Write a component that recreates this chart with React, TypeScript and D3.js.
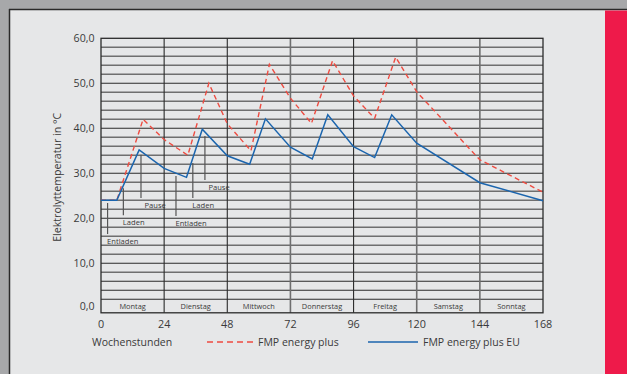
import React from 'react';
import * as d3 from 'd3';

// ---- data ----
const redHours = [0, 6, 16, 24, 33, 41, 48, 57, 64, 72, 80, 88, 96, 104, 112, 120, 144, 168];
const redTemps = [24, 24, 42, 37.5, 34, 50, 41, 35, 54.2, 46.7, 41.1, 55, 47.2, 42.2, 55.8, 48.1, 33, 25.8];
const blueHours = [0, 6, 14.5, 24, 32.5, 38.5, 48, 56.5, 62.5, 72, 80.3, 86.2, 96, 104, 110.5, 120, 144, 168];
const blueTemps = [24, 24, 35.2, 31.1, 29.1, 39.8, 33.9, 32, 42.1, 35.8, 33.2, 43, 35.9, 33.5, 43, 36.7, 27.9, 23.9];
const yTicks = [0, 10, 20, 30, 40, 50, 60];
const xTicks = [0, 24, 48, 72, 96, 120, 144, 168];
const days = ['Montag', 'Dienstag', 'Mittwoch', 'Donnerstag', 'Freitag', 'Samstag', 'Sonntag'];
const markLabels = ['Entladen', 'Laden', 'Pause', 'Entladen', 'Laden', 'Pause'];
const markHours = [2.5, 8.5, 15.2, 28.5, 34.9, 39.5];
const markTop = [23.4, 26.7, 34.1, 29.4, 32.3, 38.3];
const markBottom = [16.5, 20.7, 24.5, 20.5, 24.5, 28.5];
const seriesNames = ['FMP energy plus', 'FMP energy plus EU'];

const FONT = "'Open Sans', 'Noto Sans', sans-serif";

export default function App() {
  const x = d3.scaleLinear().domain([0, 168]).range([101, 543]);
  const y = d3.scaleLinear().domain([0, 60]).range([308.3, 38.3]);
  const frameBottom = y(-1);
  const red = '#ee4b40';
  const blue = '#1b65ae';
  const txt = '#3a3a3a';

  const redLine = d3.line<number>().x((_, i) => x(redHours[i])).y((d) => y(d));
  const blueLine = d3.line<number>().x((_, i) => x(blueHours[i])).y((d) => y(d));

  const hLines = d3.range(2, 60, 2);
  const darkV = new Set([24, 48, 96]);

  return (
    <div style={{ position: 'absolute', left: 0, top: 0 }}>
      <svg width={627} height={374} style={{ display: 'block' }}>
        <rect x={0} y={0} width={627} height={374} fill="#a7a8aa" />
        <rect x={9} y={9} width={618} height={365} fill="#e6e7e8" />
        <line x1={9} x2={627} y1={9.5} y2={9.5} stroke="#2a2a2a" strokeWidth={1.5} />
        <line x1={9.5} x2={9.5} y1={9} y2={374} stroke="#2a2a2a" strokeWidth={1.5} />
        <rect x={605} y={10.5} width={22} height={364} fill="#ee1a4a" />

        {/* horizontal grid */}
        {hLines.map((v) => (
          <line key={'h' + v} x1={x(0)} x2={x(168)} y1={y(v)} y2={y(v)}
            stroke={v % 10 === 0 || v <= 6 ? '#2b2b2b' : '#6f6f6f'}
            strokeWidth={v % 10 === 0 || v <= 6 ? 1.1 : 1.5} />
        ))}
        {/* vertical grid */}
        {xTicks.slice(1, -1).map((h) => (
          <line key={'v' + h} x1={x(h)} x2={x(h)} y1={y(60)} y2={frameBottom}
            stroke={darkV.has(h) ? '#2b2b2b' : '#6f6f6f'}
            strokeWidth={darkV.has(h) ? 1.1 : 1.6} />
        ))}
        {/* frame */}
        <rect x={x(0)} y={y(60)} width={x(168) - x(0)} height={frameBottom - y(60)}
          fill="none" stroke="#2b2b2b" strokeWidth={1.3} />

        {/* day labels */}
        {days.map((d, i) => (
          <text key={d} x={x(i * 24 + 12)} y={(y(2) + frameBottom) / 2 + 2.8}
            textAnchor="middle" fontFamily={FONT} fontSize={7.4} fill={txt}>{d}</text>
        ))}

        {/* y ticks */}
        {yTicks.map((v) => (
          <text key={'y' + v} x={94.5} y={y(v) + (v === 0 ? -2 : 0) + 4} textAnchor="end"
            fontFamily={FONT} fontSize={10.6} fill={txt}>{d3.format('.1f')(v).replace('.', ',')}</text>
        ))}
        {/* x ticks */}
        {xTicks.map((h) => (
          <text key={'x' + h} x={x(h)} y={327.5} textAnchor="middle"
            fontFamily={FONT} fontSize={10.8} fill={txt}>{h}</text>
        ))}

        <text transform={`translate(${61},${(y(60) + y(0)) / 2 + 4}) rotate(-90)`} textAnchor="middle"
          fontFamily={FONT} fontSize={10.6} fill={txt}>Elektrolyttemperatur in °C</text>
        <text x={92} y={346} fontFamily={FONT} fontSize={10.5} fill={txt}>Wochenstunden</text>

        {/* annotations */}
        {markLabels.map((l, i) => (
          <g key={'m' + i}>
            <line x1={x(markHours[i])} x2={x(markHours[i])} y1={y(markTop[i])} y2={y(markBottom[i])}
              stroke="#555" strokeWidth={1.2} />
            <text x={x(markHours[i]) + (l === 'Pause' ? 3.5 : -0.5)} y={y(markBottom[i]) + 9.8}
              fontFamily={FONT} fontSize={7.6} fill={txt}>{l}</text>
          </g>
        ))}

        {/* series */}
        <path d={redLine(redTemps) || ''} fill="none" stroke={red} strokeWidth={1.4} strokeDasharray="5,3.5" />
        <path d={blueLine(blueTemps) || ''} fill="none" stroke={blue} strokeWidth={1.5} />

        {/* legend */}
        <line x1={207} x2={254} y1={342} y2={342} stroke={red} strokeWidth={1.4} strokeDasharray="6,4" />
        <text x={258} y={346} fontFamily={FONT} fontSize={10.5} fill={txt}>{seriesNames[0]}</text>
        <line x1={368} x2={418} y1={342} y2={342} stroke={blue} strokeWidth={1.5} />
        <text x={423} y={346} fontFamily={FONT} fontSize={10.5} fill={txt}>{seriesNames[1]}</text>
      </svg>
    </div>
  );
}
